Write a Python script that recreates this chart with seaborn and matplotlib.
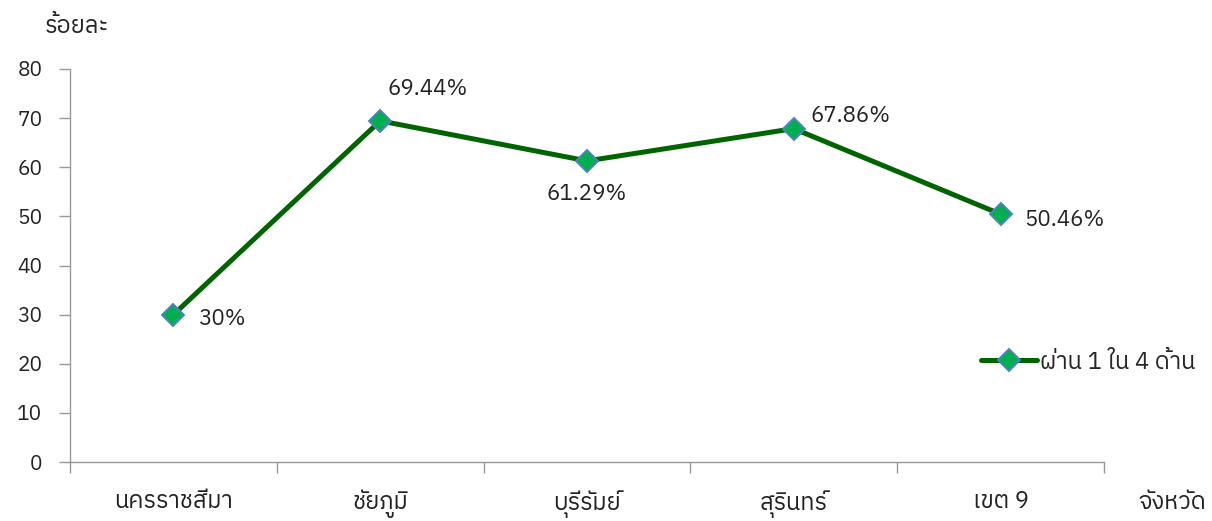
import matplotlib
matplotlib.use("Agg")
import matplotlib.pyplot as plt
from matplotlib import font_manager
import seaborn as sns
import pandas as pd

# data
provinces = ["นครราชสีมา", "ชัยภูมิ", "บุรีรัมย์", "สุรินทร์", "เขต 9"]
pass_rate = [30, 69.44, 61.29, 67.86, 50.46]
value_labels = ["30%", "69.44%", "61.29%", "67.86%", "50.46%"]
series_name = "ผ่าน 1 ใน 4 ด้าน"
yticks = [0, 10, 20, 30, 40, 50, 60, 70, 80]

sns.set_theme(style="white")

# pick any installed family that covers Thai
installed = {f.name for f in font_manager.fontManager.ttflist}
thai_fams = sorted(n for n in installed if "Thai" in n or "Loma" in n or "Garuda" in n
                   or "Sarabun" in n or "Kinnari" in n or "Norasi" in n or "Waree" in n)
families = thai_fams + ["Noto Sans", "DejaVu Sans"]
plt.rcParams["font.family"] = families

df = pd.DataFrame({"province": provinces, "pct": pass_rate})
df["pos"] = range(len(df))

fig = plt.figure(figsize=(12.12, 5.21), dpi=100)
ax = fig.add_axes([0.0578, 0.1132, 0.853, 0.7544])

sns.lineplot(data=df, x="pos", y="pct", ax=ax, color="#006400", linewidth=3.6,
             marker="D", markersize=11, markerfacecolor="#00B050",
             markeredgecolor="#4F81BD", markeredgewidth=1.4, label=series_name, sort=False)

# label offsets in points
offsets = [(18, -3), (5, 23), (0, -24), (12, 9), (17, -4)]
for i, (lbl, off) in enumerate(zip(value_labels, offsets)):
    ax.annotate(lbl, (i, pass_rate[i]), xytext=off, textcoords="offset points",
                ha="left" if off[0] > 0 else "center", va="center", fontsize=16, color="#222222")

ax.set_xlim(-0.5, len(provinces) - 0.5)
ax.set_ylim(0, 80)
ax.set_yticks(yticks)
ax.set_xticks(range(len(provinces)))
ax.set_xticklabels(provinces)
ax.set_xticks([i - 0.5 for i in range(len(provinces) + 1)], minor=True)
ax.tick_params(axis="x", which="major", bottom=True, length=0, pad=20, labelsize=17,
               labelcolor="#222222")
ax.tick_params(axis="x", which="minor", bottom=True, length=8, width=1, color="#999999",
               direction="out")
ax.tick_params(axis="y", left=True, length=8, width=1, color="#999999", direction="out", pad=12,
               labelsize=15, labelcolor="#222222")
for side in ["top", "right"]:
    ax.spines[side].set_visible(False)
for side in ["left", "bottom"]:
    ax.spines[side].set_color("#999999")
    ax.spines[side].set_linewidth(1)
ax.set_xlabel("")
ax.set_ylabel("")

fig.text(0.037, 0.95, "ร้อยละ", fontsize=17, color="#222222", va="center", ha="left")
fig.text(0.995, 0.035, "จังหวัด", fontsize=17, color="#222222", va="center", ha="right")

ax.legend(loc="center left", bbox_to_anchor=(0.809, 0.305), bbox_transform=fig.transFigure,
          frameon=False, fontsize=17, handlelength=2.4, handletextpad=0.1, borderaxespad=0,
          borderpad=0)

fig.savefig("out.png", dpi=100)
